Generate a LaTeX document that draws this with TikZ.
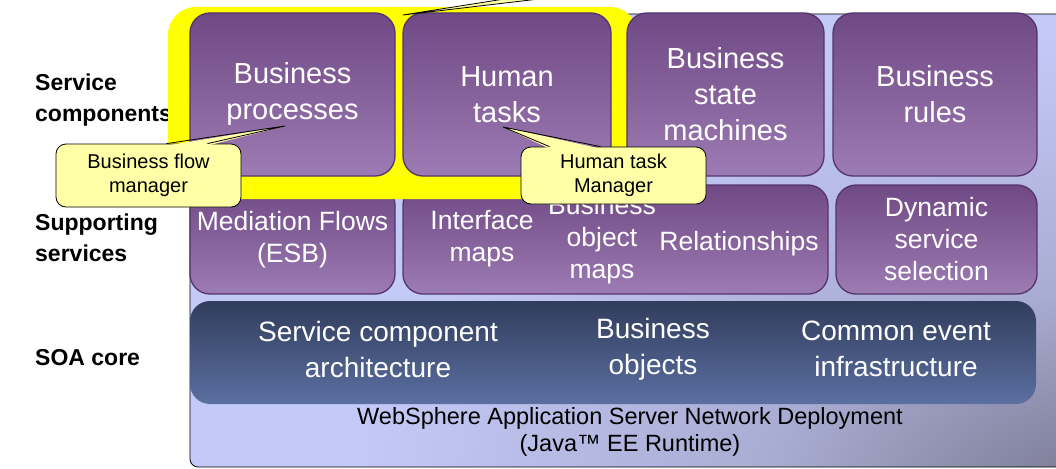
\documentclass[tikz,border=0pt]{standalone}
\usepackage{fontspec}
\setmainfont{Liberation Sans}
\usepackage{tikz}
\usetikzlibrary{positioning}

\definecolor{panlite}{HTML}{C4CAF8}
\definecolor{panmid}{HTML}{A9ACD2}
\definecolor{pandark}{HTML}{80809A}
\definecolor{purptop}{HTML}{6F4984}
\definecolor{purpbot}{HTML}{9D7BB3}
\definecolor{purpedge}{HTML}{55346E}
\definecolor{coretop}{HTML}{313D5C}
\definecolor{corebot}{HTML}{5B6FA1}
\definecolor{hilite}{HTML}{FFFF00}
\definecolor{notefill}{HTML}{FFFFA8}

\pgfdeclareradialshading{paneldim}{\pgfpoint{0bp}{0bp}}{color(0bp)=(pandark); color(2bp)=(pandark); color(11bp)=(panmid); color(25bp)=(panlite); color(50bp)=(panlite)}

\begin{document}
\begin{tikzpicture}[x=1pt, y=-1pt, every node/.style={align=center},
    layer/.style={font=\bfseries\fontsize{23pt}{31pt}\selectfont, align=left, anchor=west, inner sep=0pt},
    comp/.style={draw=purpedge, line width=1.3pt, rounded corners=20pt, top color=purptop, bottom color=purpbot,
      text=white, minimum width=205pt, minimum height=163pt, font=\fontsize{29pt}{36pt}\selectfont},
    support/.style={comp, minimum height=109pt, font=\fontsize{26.5pt}{32pt}\selectfont},
    sublabel/.style={text=white, inner sep=0pt, font=\fontsize{26.5pt}{32pt}\selectfont},
    core/.style={rounded corners=20pt, top color=coretop, bottom color=corebot, minimum width=846pt, minimum height=103pt},
    corelabel/.style={text=white, inner sep=0pt, font=\fontsize{28pt}{36pt}\selectfont},
    note/.style={draw, line width=0.8pt, fill=notefill, rounded corners=10pt, minimum width=185pt,
      inner sep=0pt, font=\fontsize{20pt}{24pt}\selectfont},
    pointer/.style={draw, line width=0.8pt, line join=round}]

  \useasboundingbox (0,0) rectangle (1056,468);
  \clip (0,0) rectangle (1056,468);

  % runtime panel
  \fill[panlite, rounded corners=8pt] (190,14) rectangle (1066,467);
  \begin{scope}
    \clip[rounded corners=8pt] (190,14) rectangle (1066,467);
    \shade[shading=paneldim] (1100,500) ellipse [x radius=760pt, y radius=470pt];
  \end{scope}
  \draw[line width=0.8pt, rounded corners=8pt] (190,14) rectangle (1066,467);
  \node[font=\fontsize{23.5pt}{27pt}\selectfont] (was) at (630,431.5) {WebSphere Application Server Network Deployment\\(Java™ EE Runtime)};

  % layer names
  \node[layer] (svc) at (35,100) {Service\\components};
  \node[layer] (sup) at (35,238) {Supporting\\services};
  \node[layer] (soa) at (35,358) {SOA core};

  % supporting services
  \node[support] (medflow) at (292.5,239.5) {Mediation Flows\\(ESB)};
  \node[support, minimum width=425pt] (maps) at (615.5,239.5) {};
  \node[sublabel] (ifmaps) at (482,239) {Interface\\maps};
  \node[sublabel] (bomaps) at (602,240) {Business\\object\\maps};
  \node[sublabel] (rels) at (739,244) {Relationships};
  \node[support, minimum width=201pt] (dynsel) at (936.5,239.5) {Dynamic\\service\\selection};

  % SOA core
  \node[core] (soacore) at (613,352.5) {};
  \node[corelabel] (sca) at (378,349) {Service component\\architecture};
  \node[corelabel] (bobj) at (653,349) {Business\\objects};
  \node[corelabel] (cei) at (896,349) {Common event\\infrastructure};

  % highlight
  \fill[hilite, rounded corners=28pt] (168,7) rectangle (638,199);

  % service components
  \node[comp] (procs) at (292.5,94.5) {Business\\processes};
  \node[comp, minimum width=208pt] (tasks) at (507,94.5) {Human\\tasks};
  \node[comp, minimum width=197pt] (states) at (725.5,94.5) {Business\\state\\machines};
  \node[comp, minimum width=204pt] (rules) at (935,94.5) {Business\\rules};

  % callouts
  \coordinate (flowtip) at (285,126);
  \coordinate (tasktip) at (503,127);
  \coordinate (toptip) at (403,15);
  \coordinate (topfoot) at (517,-3);
  \coordinate (topfoot2) at (556,-3);

  \node[note, minimum height=63pt] (flowmgr) at (148.5,175.5) {Business flow\\manager};
  \fill[notefill] ([xshift=18pt,yshift=-2pt]flowmgr.north) -- (flowtip) -- ([xshift=59pt,yshift=-2pt]flowmgr.north) -- cycle;
  \path[pointer] ([xshift=18pt]flowmgr.north) -- (flowtip) -- ([xshift=59pt]flowmgr.north);

  \node[note, minimum height=57pt] (taskmgr) at (613.5,175.5) {Human task\\Manager};
  \fill[notefill] ([xshift=-64pt,yshift=-2pt]taskmgr.north) -- (tasktip) -- ([xshift=-13pt,yshift=-2pt]taskmgr.north) -- cycle;
  \path[pointer] ([xshift=-64pt]taskmgr.north) -- (tasktip) -- ([xshift=-13pt]taskmgr.north);

  \fill[notefill] (topfoot) -- (toptip) -- (topfoot2) -- cycle;
  \path[pointer] (topfoot) -- (toptip) -- (topfoot2);
\end{tikzpicture}
\end{document}
